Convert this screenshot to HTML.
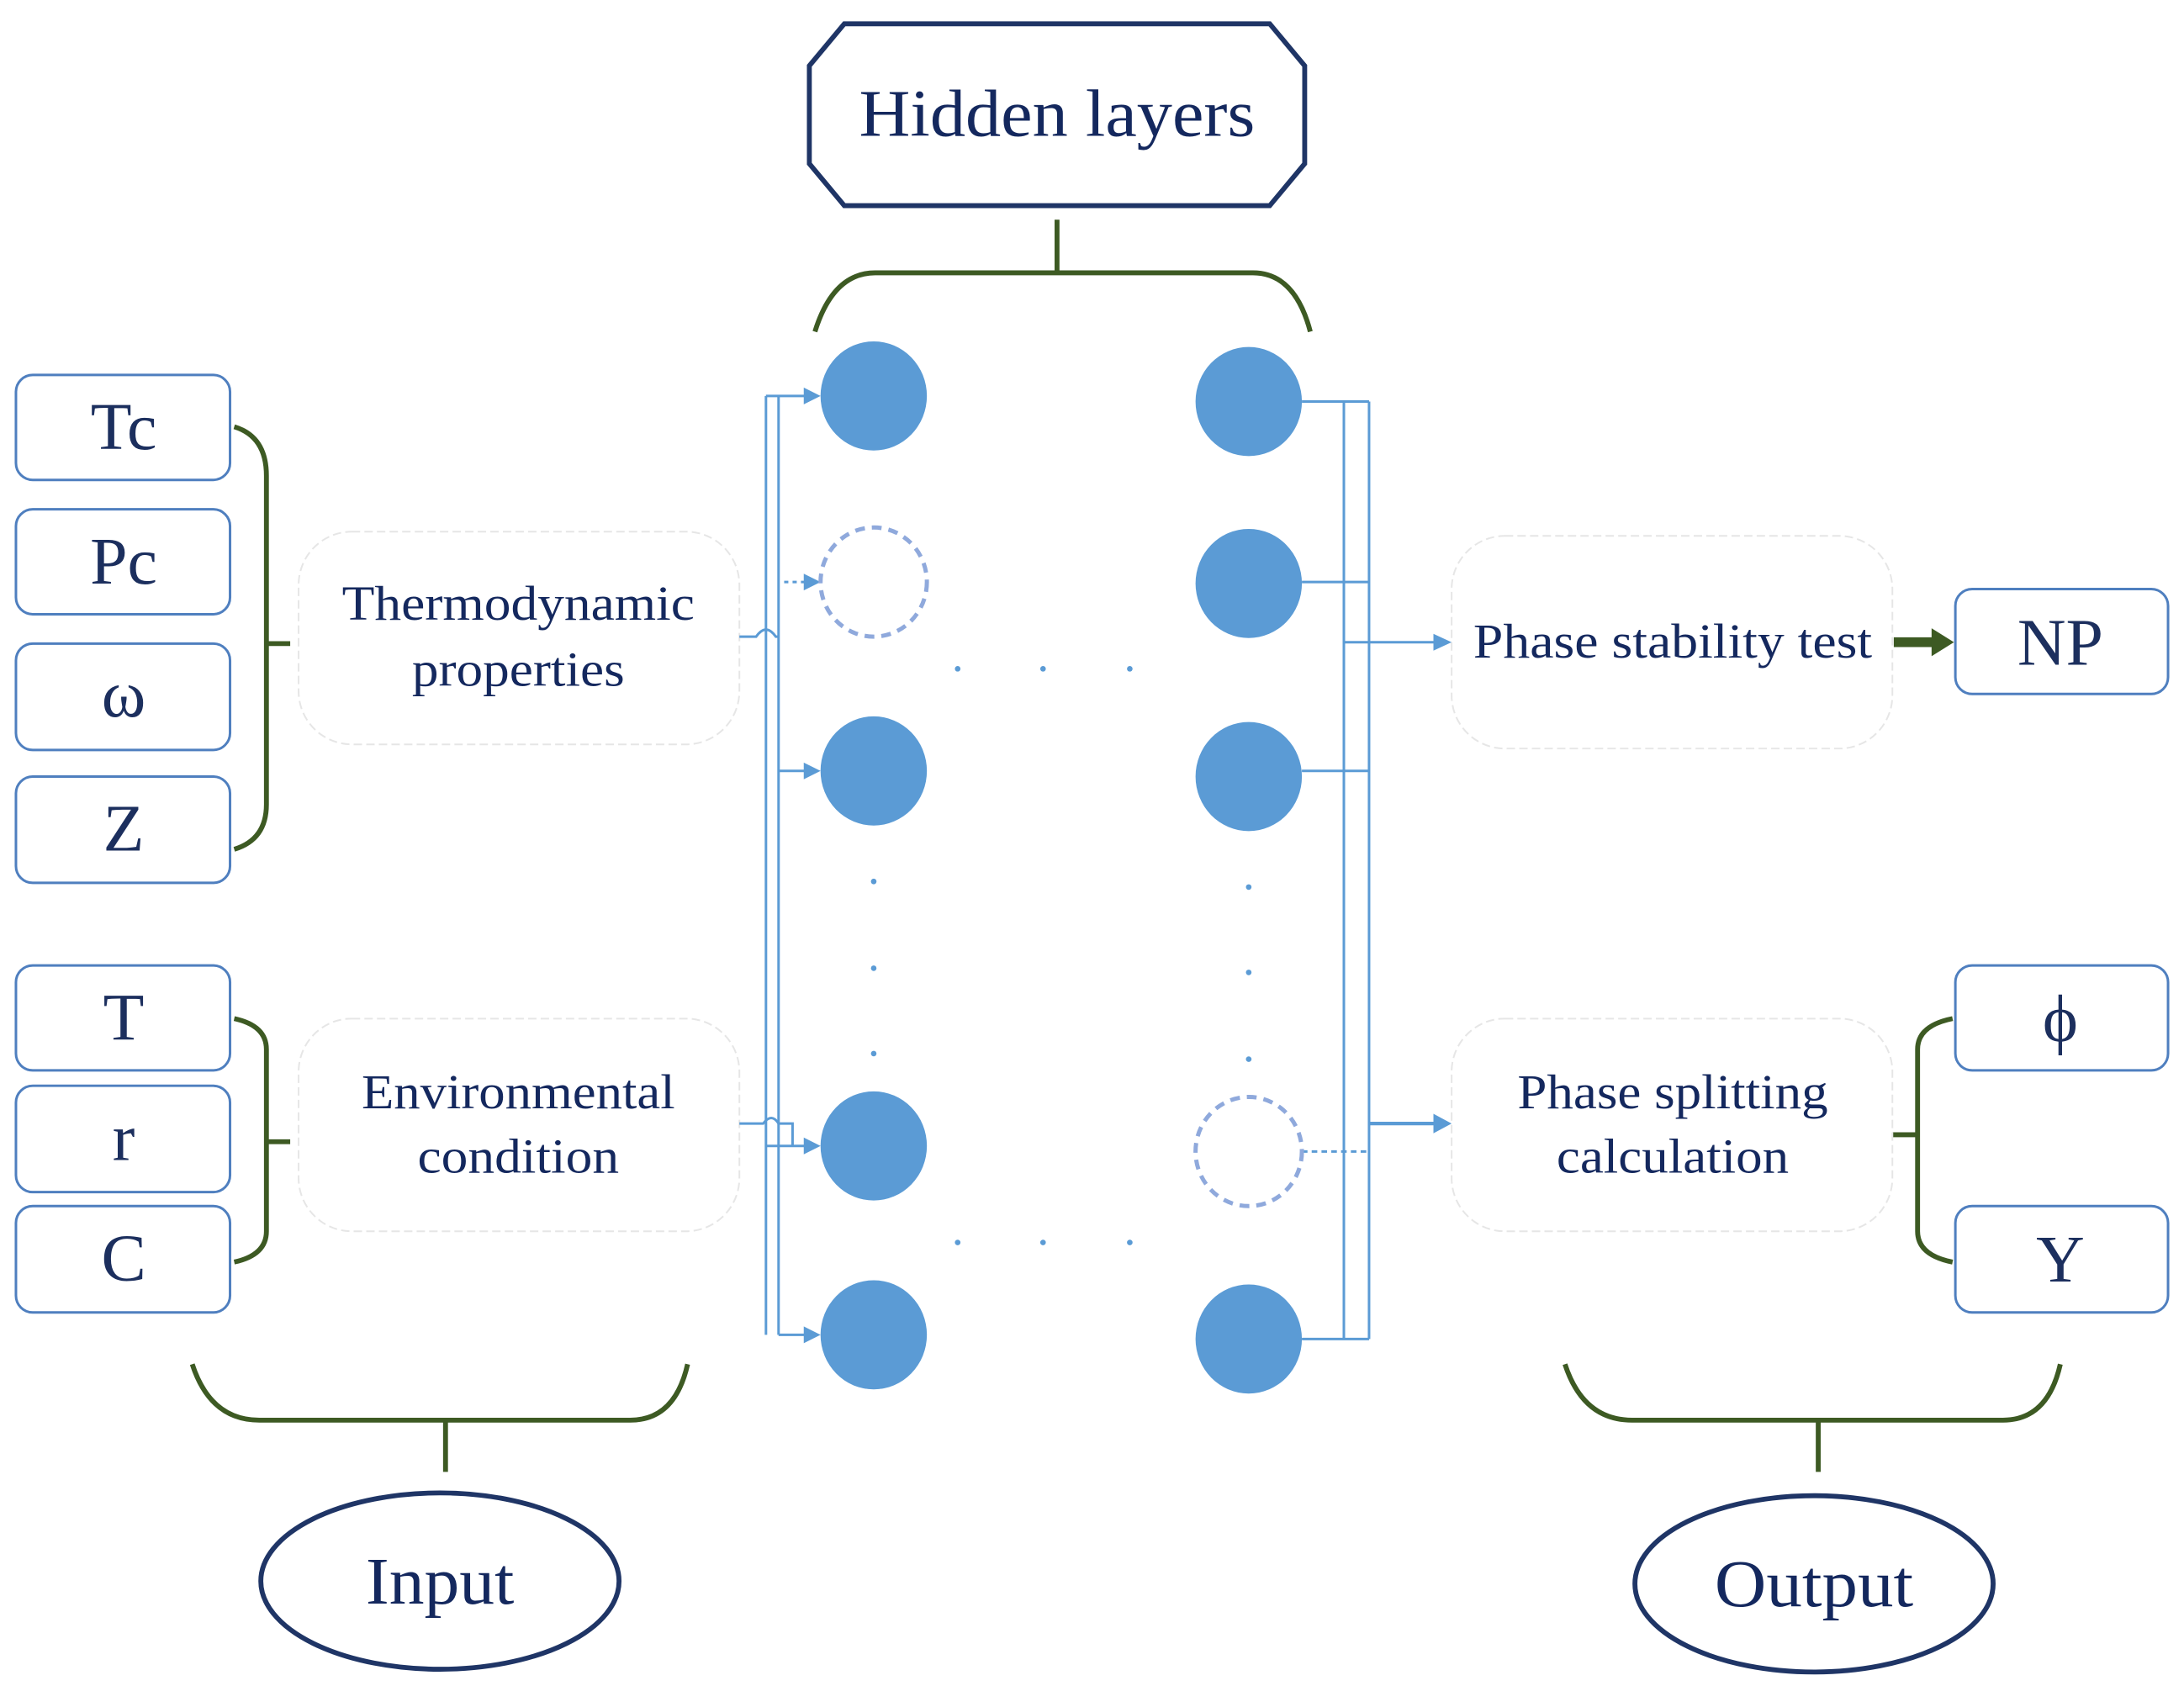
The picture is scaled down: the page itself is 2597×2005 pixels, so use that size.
<!DOCTYPE html>
<html><head><meta charset="utf-8"><style>html,body{margin:0;padding:0;background:#fff}svg{display:block}</style></head>
<body>
<svg width="2597" height="2005" viewBox="0 0 1560 1205" xmlns="http://www.w3.org/2000/svg" font-family="'Liberation Serif', serif">
<rect width="1560" height="1205" fill="#fff"/>
<g fill="none" stroke="#1f3566" stroke-width="3.5">
<polygon points="603,17 907,17 932,47 932,117 907,147 603,147 578,117 578,47"/>
<ellipse cx="314" cy="1130" rx="128" ry="63"/>
<ellipse cx="1296" cy="1132" rx="128" ry="63"/>
</g>
<g fill="#14285e" text-anchor="middle">
<text x="755" y="97" font-size="48" textLength="283" lengthAdjust="spacingAndGlyphs">Hidden layers</text>
<text x="314" y="1146" font-size="48" textLength="106" lengthAdjust="spacingAndGlyphs">Input</text>
<text x="1296" y="1148" font-size="48" textLength="142" lengthAdjust="spacingAndGlyphs">Output</text>
</g>
<g fill="none" stroke="#3d5a23" stroke-width="3.5">
<path d="M755,157 V195 M582,237 Q595,195 625,195 H895 Q925,195 936,237"/>
<path d="M167,305 Q190,312 190,340 V575 Q190,600 167,607 M190,460 H207"/>
<path d="M167,728 Q190,733 190,750 V880 Q190,897 167,902 M190,816 H207"/>
<path d="M1395,728 Q1370,733 1370,750 V880 Q1370,897 1395,902 M1352,811 H1370"/>
<path d="M137,975 Q150,1015 185,1015 H450 Q482,1015 491,975 M318,1015 V1052"/>
<path d="M1118,975 Q1131,1015 1166,1015 H1431 Q1463,1015 1472,975 M1299,1015 V1052"/>
</g>
<g fill="#fff" stroke="#4f7fbf" stroke-width="1.8">
<rect x="11" y="268" width="153" height="75" rx="12"/>
<rect x="11" y="364" width="153" height="75" rx="12"/>
<rect x="11" y="460" width="153" height="76" rx="12"/>
<rect x="11" y="555" width="153" height="76" rx="12"/>
<rect x="11" y="690" width="153" height="75" rx="12"/>
<rect x="11" y="776" width="153" height="76" rx="12"/>
<rect x="11" y="862" width="153" height="76" rx="12"/>
<rect x="1397" y="421" width="152" height="75" rx="12"/>
<rect x="1397" y="690" width="152" height="75" rx="12"/>
<rect x="1397" y="862" width="152" height="76" rx="12"/>
</g>
<g fill="#1c2f5e" text-anchor="middle" font-size="48">
<text x="88" y="321">Tc</text>
<text x="88" y="417">Pc</text>
<text x="88" y="512">ω</text>
<text x="88" y="608">Z</text>
<text x="88" y="743">T</text>
<text x="88" y="829">r</text>
<text x="88" y="915">C</text>
<text x="1472" y="475">NP</text>
<text x="1472" y="744">ϕ</text>
<text x="1472" y="916">Y</text>
</g>
<g fill="#fff" stroke="#e6e6e6" stroke-width="1.2" stroke-dasharray="6,3">
<rect x="213" y="380" width="315" height="152" rx="38"/>
<rect x="213" y="728" width="315" height="152" rx="38"/>
<rect x="1037" y="383" width="315" height="152" rx="38"/>
<rect x="1037" y="728" width="315" height="152" rx="38"/>
</g>
<g fill="#14285e" text-anchor="middle" font-size="35" lengthAdjust="spacingAndGlyphs">
<text x="370" y="443" textLength="252" lengthAdjust="spacingAndGlyphs">Thermodynamic</text>
<text x="370" y="490" textLength="152" lengthAdjust="spacingAndGlyphs">properties</text>
<text x="370" y="792" textLength="224" lengthAdjust="spacingAndGlyphs">Environmental</text>
<text x="370" y="838" textLength="144" lengthAdjust="spacingAndGlyphs">condition</text>
<text x="1195" y="470" textLength="285" lengthAdjust="spacingAndGlyphs">Phase stability test</text>
<text x="1195" y="792" textLength="222" lengthAdjust="spacingAndGlyphs">Phase splitting</text>
<text x="1195" y="838" textLength="166" lengthAdjust="spacingAndGlyphs">calculation</text>
</g>
<g fill="none" stroke="#5b9bd5" stroke-width="1.8">
<path d="M547,283 V954 M556,283 V954"/>
<path d="M547,283 H580 M556,551 H580 M547,819 H580 M556,954 H580"/>
<path d="M560,416 H580" stroke-dasharray="3,3"/>
<path d="M528,455 H540 Q547,445 554,455 H556"/>
<path d="M528,803 H545 Q551,795 556,803 H566 V819"/>
<path d="M930,287 H978 M960,287 V957 M978,287 V957 M930,957 H978"/>
<path d="M930,416 H978 M930,551 H978"/>
<path d="M930,823 H978" stroke-dasharray="4,3"/>
<path d="M960,459 H1028"/>
<path d="M978,803 H1028" stroke-width="2.5"/>
</g>
<g fill="#5b9bd5">
<polygon points="586,283 574,277 574,289"/>
<polygon points="586,416 574,410 574,422"/>
<polygon points="586,551 574,545 574,557"/>
<polygon points="586,819 574,813 574,825"/>
<polygon points="586,954 574,948 574,960"/>
<polygon points="1037,459 1024,453 1024,465"/>
<polygon points="1037,803 1024,796 1024,810"/>
</g>
<path d="M1353,459 H1382" stroke="#3d5a23" stroke-width="7"/>
<polygon points="1396,459 1380,449 1380,469" fill="#3d5a23"/>
<g fill="#5b9bd5">
<ellipse cx="624" cy="283" rx="38" ry="39"/>
<ellipse cx="624" cy="551" rx="38" ry="39"/>
<ellipse cx="624" cy="819" rx="38" ry="39"/>
<ellipse cx="624" cy="954" rx="38" ry="39"/>
<ellipse cx="892" cy="287" rx="38" ry="39"/>
<ellipse cx="892" cy="417" rx="38" ry="39"/>
<ellipse cx="892" cy="555" rx="38" ry="39"/>
<ellipse cx="892" cy="957" rx="38" ry="39"/>
</g>
<g fill="none" stroke="#8fa9dc" stroke-width="3" stroke-dasharray="7,5">
<ellipse cx="624" cy="416" rx="38" ry="39"/>
<ellipse cx="892" cy="823" rx="38" ry="39"/>
</g>
<g fill="#5b9bd5">
<circle cx="684" cy="478" r="2"/><circle cx="745" cy="478" r="2"/><circle cx="807" cy="478" r="2"/>
<circle cx="684" cy="888" r="2"/><circle cx="745" cy="888" r="2"/><circle cx="807" cy="888" r="2"/>
<circle cx="624" cy="630" r="2"/><circle cx="624" cy="692" r="2"/><circle cx="624" cy="753" r="2"/>
<circle cx="892" cy="634" r="2"/><circle cx="892" cy="695" r="2"/><circle cx="892" cy="757" r="2"/>
</g>
</svg>
</body></html>
